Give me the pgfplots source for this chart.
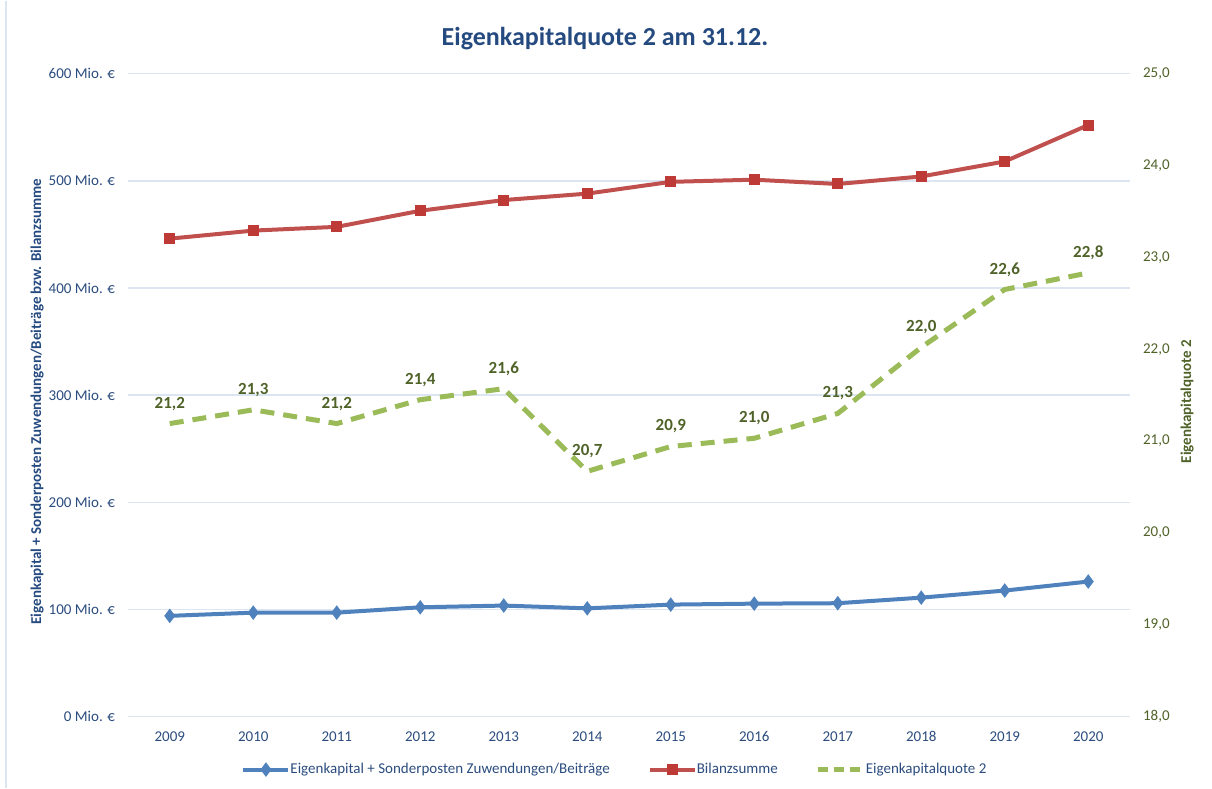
\documentclass[border=0pt]{standalone}
\usepackage{fontspec}
\setmainfont{Carlito}
\usepackage{pgfplots}
\pgfplotsset{compat=1.18}
\definecolor{gridc}{HTML}{DCE6F2}
\definecolor{tickblue}{HTML}{2B4C7E}
\definecolor{titleblue}{HTML}{254A80}
\definecolor{linblue}{HTML}{4F81BD}
\definecolor{linred}{HTML}{C0504D}
\definecolor{markred}{HTML}{BE3A36}
\definecolor{lingreen}{HTML}{9BBB59}
\definecolor{txtgreen}{HTML}{4F6228}
\begin{document}
\begin{tikzpicture}
\path (0pt,0pt) rectangle (606pt,393.5pt);
\draw[gridc, line width=0.6pt] (3pt,0pt) -- (3pt,393.5pt);
\node[font=\fontsize{13}{15}\selectfont\bfseries, text=titleblue] at (302.5pt,374.5pt) {Eigenkapitalquote 2 am 31.12.};
\begin{axis}[
  at={(64pt,35.5pt)}, anchor=south west,
  width=501pt, height=321.5pt, scale only axis,
  xmin=2008.5, xmax=2020.5, ymin=0, ymax=600,
  xtick={2009,2010,2011,2012,2013,2014,2015,2016,2017,2018,2019,2020},
  xticklabels={2009,2010,2011,2012,2013,2014,2015,2016,2017,2018,2019,2020},
  ytick={0,100,200,300,400,500,600},
  yticklabels={0 Mio. €,100 Mio. €,200 Mio. €,300 Mio. €,400 Mio. €,500 Mio. €,600 Mio. €},
  axis line style={draw=none}, major tick style={draw=none},
  ymajorgrids, grid style={gridc, line width=0.75pt},
  tick label style={font=\fontsize{7.5}{9}\selectfont, text=tickblue},
  yticklabel style={xshift=-3pt},
  xticklabel style={yshift=-4pt},
  ylabel={Eigenkapital + Sonderposten Zuwendungen/Beiträge bzw. Bilanzsumme},
  ylabel style={at={(axis description cs:-0.0908,0.49)}, anchor=center, font=\fontsize{7.5}{9}\selectfont\bfseries, text=titleblue},
  legend style={at={(0.487,-0.0824)}, anchor=center, draw=none, fill=none,
    font=\fontsize{7.5}{9}\selectfont, text=tickblue, legend columns=3,
    /tikz/every even column/.append style={column sep=17pt},
    /tikz/every odd column/.append style={column sep=-2pt},
    legend cell align=left},
  /pgfplots/legend image code/.code={\draw[#1] (0pt,0pt) -- (22.5pt,0pt) plot coordinates {(11.25pt,0pt)};},
]
\addplot[linblue, line width=2pt, mark=diamond*, mark size=2pt, mark options={fill=linblue, draw=linblue}] coordinates {
(2009,94) (2010,97) (2011,97) (2012,102) (2013,103.6) (2014,101) (2015,104.5) (2016,105.4) (2017,105.8) (2018,111) (2019,117.6) (2020,126)};
\addlegendentry{Eigenkapital + Sonderposten Zuwendungen/Beiträge}
\addplot[linred, line width=2pt, mark=square*, mark size=2.5pt, mark options={fill=markred, draw=markred, line width=0.5pt}] coordinates {
(2009,446) (2010,453.5) (2011,457) (2012,472) (2013,482) (2014,488) (2015,499) (2016,501) (2017,497) (2018,504) (2019,518) (2020,552)};
\addlegendentry{Bilanzsumme}
\addlegendimage{lingreen, line width=2.5pt, dash pattern=on 5pt off 3pt}
\addlegendentry{Eigenkapitalquote 2}
\end{axis}
\begin{axis}[
  at={(64pt,35.5pt)}, anchor=south west,
  width=501pt, height=321.5pt, scale only axis,
  xmin=2008.5, xmax=2020.5, ymin=18, ymax=25,
  axis x line=none, axis y line*=right,
  axis line style={draw=none}, major tick style={draw=none},
  ytick={18,19,20,21,22,23,24,25},
  yticklabel style={font=\fontsize{7.5}{9}\selectfont, text=txtgreen, xshift=3pt,
    /pgf/number format/.cd, fixed, fixed zerofill, precision=1, use comma, assume math mode=true},
  ylabel={Eigenkapitalquote 2},
  ylabel style={at={(axis description cs:1.057,0.49)}, anchor=center, font=\fontsize{7.5}{9}\selectfont\bfseries, text=txtgreen},
  clip=false,
]
\addplot[lingreen, line width=2.5pt, dash pattern=on 7pt off 4.5pt,
  nodes near coords, point meta=explicit symbolic,
  every node near coord/.append style={anchor=center, yshift=10pt, inner sep=0pt, font=\fontsize{8.5}{10}\selectfont\bfseries, text=txtgreen}] coordinates {
(2009,21.19) [21,2] (2010,21.34) [21,3] (2011,21.19) [21,2] (2012,21.45) [21,4] (2013,21.57) [21,6] (2014,20.67) [20,7] (2015,20.94) [20,9] (2016,21.03) [21,0] (2017,21.30) [21,3] (2018,22.02) [22,0] (2019,22.65) [22,6] (2020,22.83) [22,8]};
\end{axis}
\end{tikzpicture}
\end{document}
